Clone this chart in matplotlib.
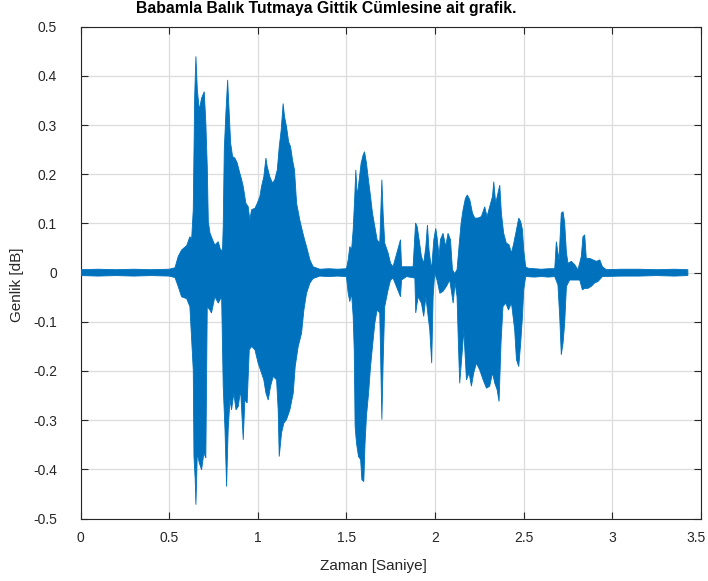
import matplotlib
matplotlib.use("Agg")
import matplotlib.pyplot as plt
import matplotlib.transforms as mtransforms
import numpy as np

plt.rcParams['font.family'] = ['Liberation Sans', 'DejaVu Sans']

# upper envelope of the recorded sentence (time [s], amplitude)
t_upper = [
    0.000, 0.100, 0.200, 0.300, 0.400, 0.500,
    0.533, 0.551, 0.570, 0.599, 0.617, 0.627, 0.636, 0.644, 0.651, 0.659,
    0.670, 0.683, 0.698, 0.707, 0.715, 0.721, 0.730, 0.745, 0.758, 0.777,
    0.790, 0.801, 0.805, 0.811, 0.820, 0.830, 0.837, 0.847, 0.858, 0.871,
    0.884, 0.899, 0.909, 0.918, 0.933, 0.946, 0.955, 0.965, 0.984, 0.997,
    1.012, 1.021, 1.034, 1.046, 1.053, 1.068, 1.083, 1.096, 1.110, 1.121,
    1.132, 1.143, 1.151, 1.162, 1.174, 1.185, 1.196, 1.207, 1.219, 1.237,
    1.252, 1.264, 1.275, 1.294, 1.312,
    1.350, 1.400, 1.450,
    1.500, 1.510, 1.519, 1.529, 1.538, 1.547, 1.553, 1.561, 1.572, 1.583,
    1.594, 1.602, 1.613, 1.622, 1.636, 1.647, 1.660, 1.673, 1.688, 1.700,
    1.707, 1.716, 1.735, 1.749, 1.763, 1.805, 1.811, 1.839, 1.876, 1.890,
    1.899, 1.910, 1.923, 1.936, 1.948, 1.957, 1.966, 1.980, 1.993, 2.004,
    2.011, 2.023, 2.030, 2.045, 2.060, 2.073, 2.087, 2.098, 2.111, 2.124,
    2.135, 2.147, 2.158, 2.171, 2.182, 2.196, 2.211, 2.224, 2.242, 2.261,
    2.280, 2.293, 2.308, 2.324, 2.331, 2.342, 2.355, 2.365, 2.374, 2.387,
    2.402, 2.417, 2.431, 2.444, 2.459, 2.472, 2.483, 2.493, 2.500, 2.511,
    2.524,
    2.560, 2.600, 2.640, 2.675,
    2.684, 2.699, 2.712, 2.722, 2.731, 2.741, 2.750, 2.769, 2.788, 2.806,
    2.825, 2.834, 2.844, 2.853, 2.872, 2.891, 2.910, 2.929, 2.944, 2.966,
    3.050, 3.150, 3.250, 3.350, 3.426,
]
amp_upper = [
    0.006, 0.007, 0.006, 0.007, 0.006, 0.007,
    0.010, 0.033, 0.046, 0.055, 0.073, 0.069, 0.128, 0.358, 0.440, 0.372,
    0.331, 0.355, 0.368, 0.304, 0.216, 0.104, 0.081, 0.067, 0.056, 0.063,
    0.046, 0.046, 0.094, 0.250, 0.324, 0.392, 0.338, 0.263, 0.236, 0.233,
    0.223, 0.202, 0.189, 0.175, 0.141, 0.134, 0.107, 0.128, 0.131, 0.141,
    0.155, 0.175, 0.195, 0.233, 0.216, 0.195, 0.182, 0.189, 0.209, 0.256,
    0.290, 0.344, 0.317, 0.297, 0.266, 0.256, 0.229, 0.209, 0.141, 0.107,
    0.084, 0.067, 0.053, 0.026, 0.012,
    0.007, 0.008, 0.007,
    0.008, 0.026, 0.053, 0.046, 0.087, 0.155, 0.209, 0.155, 0.189, 0.223,
    0.239, 0.246, 0.223, 0.195, 0.155, 0.121, 0.094, 0.067, 0.060, 0.189,
    0.121, 0.060, 0.040, 0.019, 0.012, 0.067, 0.012, 0.012, 0.012, 0.101,
    0.094, 0.067, 0.033, 0.019, 0.053, 0.097, 0.046, 0.006, 0.067, 0.090,
    0.073, 0.033, 0.067, 0.080, 0.053, 0.080, 0.067, 0.006, -0.002, 0.006,
    0.053, 0.101, 0.128, 0.151, 0.158, 0.148, 0.121, 0.111, 0.111, 0.114,
    0.134, 0.114, 0.134, 0.155, 0.185, 0.141, 0.162, 0.178, 0.121, 0.080,
    0.060, 0.057, 0.040, 0.060, 0.087, 0.111, 0.104, 0.087, 0.046, 0.012,
    0.009,
    0.008, 0.007, 0.008, 0.008,
    0.063, 0.026, 0.121, 0.124, 0.101, 0.040, 0.019, 0.023, 0.016, 0.006,
    0.033, 0.073, 0.077, 0.029, 0.029, 0.026, 0.023, 0.026, 0.012, 0.006,
    0.007, 0.007, 0.006, 0.007, 0.006,
]

# lower envelope
t_lower = [
    0.000, 0.100, 0.200, 0.300, 0.400, 0.500,
    0.533, 0.551, 0.570, 0.599, 0.617, 0.636, 0.640, 0.647, 0.651, 0.659,
    0.670, 0.683, 0.696, 0.707, 0.715, 0.730, 0.739, 0.758, 0.777, 0.796,
    0.805, 0.815, 0.824, 0.833, 0.843, 0.852, 0.865, 0.877, 0.890, 0.903,
    0.918, 0.927, 0.940, 0.952, 0.965, 0.984, 1.002, 1.021, 1.034, 1.046,
    1.059, 1.072, 1.087, 1.106, 1.115, 1.121, 1.134, 1.147, 1.162, 1.181,
    1.200, 1.211, 1.228, 1.247, 1.260, 1.275, 1.294, 1.312,
    1.350, 1.400, 1.450,
    1.500, 1.510, 1.519, 1.529, 1.538, 1.544, 1.549, 1.557, 1.568, 1.580,
    1.587, 1.598, 1.605, 1.613, 1.625, 1.636, 1.647, 1.660, 1.673, 1.688,
    1.700, 1.707, 1.716, 1.735, 1.749, 1.763, 1.805, 1.811, 1.839, 1.886,
    1.891, 1.904, 1.923, 1.936, 1.948, 1.961, 1.970, 1.981, 1.989, 1.998,
    2.011, 2.027, 2.045, 2.064, 2.083, 2.102, 2.113, 2.124, 2.132, 2.139,
    2.154, 2.162, 2.177, 2.192, 2.205, 2.218, 2.233, 2.252, 2.271, 2.290,
    2.308, 2.324, 2.337, 2.350, 2.361, 2.372, 2.383, 2.399, 2.414, 2.431,
    2.449, 2.459, 2.472, 2.483, 2.493, 2.500, 2.511,
    2.560, 2.600, 2.640, 2.675,
    2.693, 2.703, 2.712, 2.722, 2.731, 2.741, 2.759, 2.778, 2.797, 2.816,
    2.831, 2.844, 2.862, 2.881, 2.900, 2.919, 2.944,
    3.050, 3.150, 3.250, 3.350, 3.426,
]
amp_lower = [
    -0.006, -0.007, -0.006, -0.007, -0.006, -0.007,
    -0.010, -0.028, -0.049, -0.053, -0.069, -0.198, -0.374, -0.421, -0.472, -0.367,
    -0.387, -0.401, -0.367, -0.377, -0.069, -0.076, -0.082, -0.049, -0.062, -0.049,
    -0.231, -0.319, -0.435, -0.319, -0.259, -0.279, -0.245, -0.279, -0.272, -0.238,
    -0.340, -0.259, -0.265, -0.157, -0.150, -0.157, -0.184, -0.204, -0.218, -0.245,
    -0.259, -0.231, -0.211, -0.218, -0.279, -0.374, -0.326, -0.306, -0.299, -0.279,
    -0.245, -0.191, -0.150, -0.123, -0.076, -0.042, -0.021, -0.012,
    -0.007, -0.008, -0.007,
    -0.008, -0.042, -0.059, -0.042, -0.089, -0.157, -0.313, -0.347, -0.374, -0.380,
    -0.421, -0.425, -0.347, -0.292, -0.245, -0.191, -0.150, -0.103, -0.076, -0.082,
    -0.299, -0.184, -0.069, -0.035, -0.015, -0.011, -0.049, -0.015, -0.008, -0.011,
    -0.082, -0.049, -0.062, -0.089, -0.049, -0.089, -0.116, -0.184, -0.049, -0.001,
    -0.015, -0.042, -0.038, -0.028, -0.015, -0.062, -0.021, -0.049, -0.150, -0.225,
    -0.157, -0.116, -0.218, -0.204, -0.231, -0.204, -0.184, -0.198, -0.218, -0.235,
    -0.231, -0.204, -0.225, -0.238, -0.262, -0.143, -0.069, -0.062, -0.076, -0.062,
    -0.116, -0.177, -0.191, -0.143, -0.089, -0.035, -0.008,
    -0.009, -0.008, -0.009, -0.008,
    -0.025, -0.089, -0.167, -0.143, -0.103, -0.028, -0.015, -0.015, -0.015, -0.015,
    -0.035, -0.032, -0.032, -0.028, -0.021, -0.018, -0.008,
    -0.007, -0.007, -0.006, -0.007, -0.006,
]

x_ticks = [0, 0.5, 1, 1.5, 2, 2.5, 3, 3.5]
x_labels = ['0', '0.5', '1', '1.5', '2', '2.5', '3', '3.5']
y_ticks = [-0.5, -0.4, -0.3, -0.2, -0.1, 0, 0.1, 0.2, 0.3, 0.4, 0.5]
y_labels = ['-0.5', '-0.4', '-0.3', '-0.2', '-0.1', '0', '0.1', '0.2', '0.3', '0.4', '0.5']

W, H = 708, 581
fig = plt.figure(figsize=(W / 100, H / 100), dpi=100)
ax = fig.add_axes([80.5 / W, 1 - 518.5 / H, (701 - 80.5) / W, (518.5 - 26.8) / H])

blue = '#0072BD'
dark = '#262626'

# waveform drawn as the area between the two envelopes
poly_t = np.concatenate([t_upper, t_lower[::-1]])
poly_a = np.concatenate([amp_upper, amp_lower[::-1]])
ax.fill(poly_t, poly_a, facecolor=blue, edgecolor=blue, linewidth=0.6, zorder=3)

ax.set_xlim(0, 3.5)
ax.set_ylim(-0.5, 0.5)
ax.set_xticks(x_ticks)
ax.set_xticklabels(x_labels)
ax.set_yticks(y_ticks)
ax.set_yticklabels(y_labels)
ax.grid(True, color='#dcdcdc', linewidth=0.9, zorder=0)
ax.set_axisbelow(True)

for s in ax.spines.values():
    s.set_color(dark)
    s.set_linewidth(0.8)
ax.tick_params(direction='in', length=5, width=0.8, color=dark,
               top=True, right=True, labelsize=10, labelcolor=dark)
ax.tick_params(axis='y', pad=17)
ax.tick_params(axis='x', pad=9)

# keep the last x label inside the figure
last = ax.get_xticklabels()[-1]
last.set_transform(last.get_transform() +
                   mtransforms.ScaledTranslation(-5 / 100, 0, fig.dpi_scale_trans))

fig.text(373 / W, 1 - 566 / H, 'Zaman [Saniye]', ha='center', va='center',
         fontsize=11, color=dark)
fig.text(17.5 / W, 1 - 285 / H, 'Genlik [dB]', ha='center', va='center',
         rotation=90, fontsize=11, color=dark)
fig.text(326.5 / W, 1 - 8.5 / H, 'Babamla Balık Tutmaya Gittik Cümlesine ait grafik.',
         ha='center', va='center', fontsize=11.3, fontweight='bold', color='black')

fig.savefig('out.png', dpi=100)
